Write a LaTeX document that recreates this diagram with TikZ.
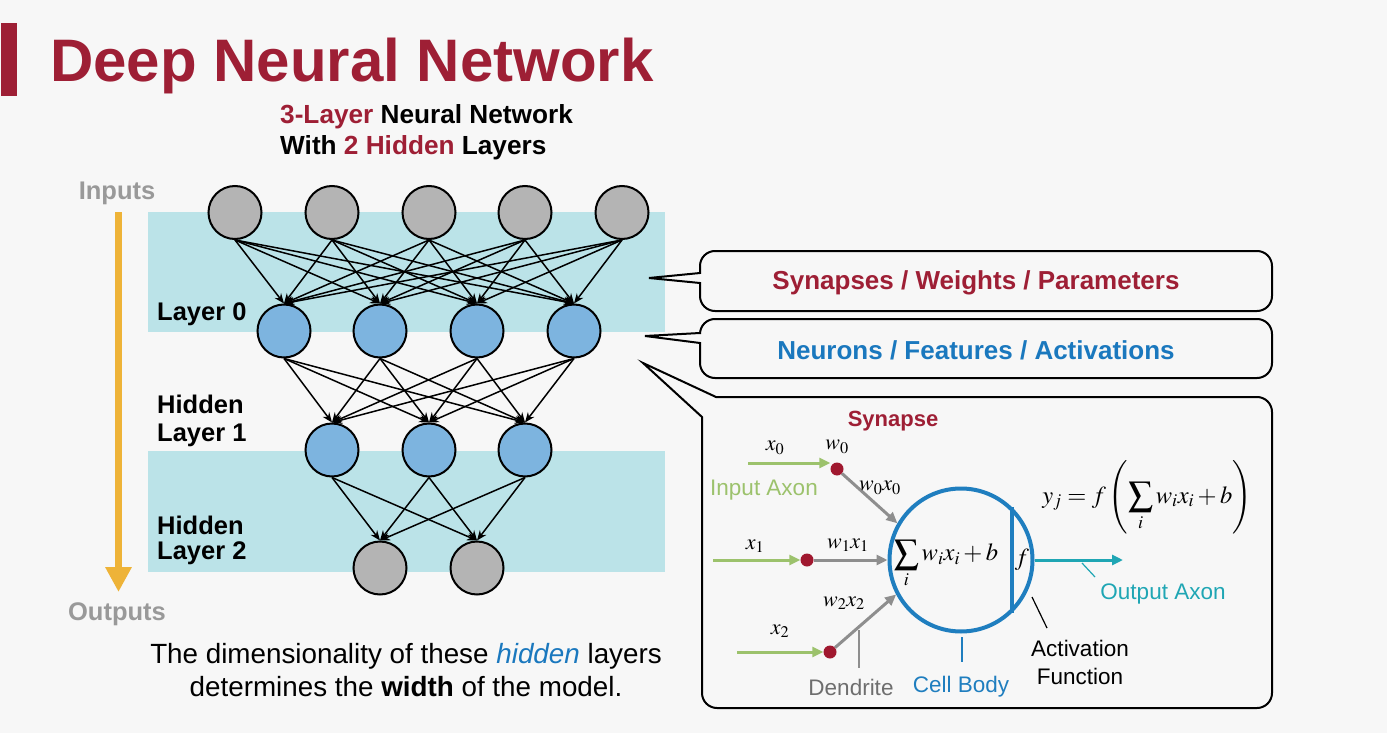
\documentclass[tikz,border=0pt]{standalone}
\usepackage{mathptmx}
\usepackage[no-math]{fontspec}
\setmainfont{Liberation Sans}
\usetikzlibrary{arrows.meta}
\definecolor{bgc}{HTML}{F7F7F7}
\definecolor{titlered}{HTML}{9E1F35}
\definecolor{bandc}{HTML}{BBE3E8}
\definecolor{nodegrey}{HTML}{B4B4B4}
\definecolor{nodeblue}{HTML}{7DB4DF}
\definecolor{orangec}{HTML}{EEB338}
\definecolor{lblgrey}{HTML}{999999}
\definecolor{greenc}{HTML}{9CC26C}
\definecolor{dotred}{HTML}{A0182F}
\definecolor{arrgrey}{HTML}{8E8E8E}
\definecolor{cellblue}{HTML}{1F7EBF}
\definecolor{tealc}{HTML}{1FA6B4}
\definecolor{neurblue}{HTML}{1A78BE}
\definecolor{dendgrey}{HTML}{6E6E6E}
\begin{document}
\begin{tikzpicture}[x=1pt,y=-1pt,
  nn/.style={circle, draw=black, line width=2pt, minimum size=53pt, inner sep=0pt},
  gnode/.style={nn, fill=nodegrey},
  bnode/.style={nn, fill=nodeblue},
  edge/.style={line width=1.5pt, -{Stealth[length=10pt,width=8pt]}},
  lbl/.style={inner sep=0pt, font=\fontsize{25.5}{29}\selectfont\bfseries},
  callout/.style={draw=black, line width=2pt, line join=miter},
  boxtxt/.style={inner sep=0pt, font=\fontsize{26}{30}\selectfont\bfseries},
  mlbl/.style={inner sep=0pt, font=\fontsize{22}{25}\selectfont},
  flbl/.style={inner sep=0pt, font=\fontsize{24.5}{28}\selectfont},
  slbl/.style={inner sep=0pt, font=\fontsize{22.5}{28}\selectfont},
  garrow/.style={greenc, line width=3pt, -{Triangle[length=11pt,width=10pt]}},
  grarrow/.style={arrgrey, line width=3pt, -{Triangle[length=11pt,width=10pt]}},
  tarrow/.style={tealc, line width=3pt, -{Triangle[length=11pt,width=10pt]}},
  dot/.style={circle, fill=dotred, minimum size=13pt, inner sep=0pt}
]
\useasboundingbox (0,0) rectangle (1387,733);
\fill[bgc] (0,0) rectangle (1387,733);

% title
\fill[titlered] (1,23) rectangle (17,96);
\node[anchor=base west, inner sep=0pt, text=titlered, font=\fontsize{60}{70}\selectfont\bfseries] (title) at (50,82) {Deep Neural Network};
\node[anchor=base west, inner sep=0pt, font=\fontsize{26.2}{30}\selectfont\bfseries] (sub1) at (280,124) {\textcolor{titlered}{3-Layer} Neural Network};
\node[anchor=base west, inner sep=0pt, font=\fontsize{26.2}{30}\selectfont\bfseries] (sub2) at (280,155) {With \textcolor{titlered}{2 Hidden} Layers};

% bands
\fill[bandc] (148,212) rectangle (665,332);
\fill[bandc] (148,451) rectangle (665,572);

% orange arrow
\coordinate (oa1) at (118.5,212);
\coordinate (oa2) at (118.5,592);
\draw[orangec, line width=7pt, -{Triangle[length=25pt,width=25pt]}] (oa1) -- (oa2);
\node[lbl, text=lblgrey] (inputs) at (117,193) {Inputs};
\node[lbl, text=lblgrey] (outputs) at (117,614) {Outputs};

% layer labels
\node[lbl, anchor=west] (l0) at (157,314) {Layer 0};
\node[lbl, anchor=west] (h1a) at (157,404) {Hidden};
\node[lbl, anchor=west] (h1b) at (157,435) {Layer 1};
\node[lbl, anchor=west] (h2a) at (157,525) {Hidden};
\node[lbl, anchor=west] (h2b) at (157,553) {Layer 2};

% nodes
\foreach \i/\x in {1/235,2/332,3/429,4/525,5/622} \node[gnode] (in\i) at (\x,212.5) {};
\foreach \i/\x in {1/284,2/380,3/477,4/574} \node[bnode] (a\i) at (\x,331) {};
\foreach \i/\x in {1/332,2/429,3/525} \node[bnode] (b\i) at (\x,450) {};
\foreach \i/\x in {1/380,2/477} \node[gnode] (o\i) at (\x,568) {};

% edges
\foreach \i in {1,...,5} \foreach \j in {1,...,4} \draw[edge] (in\i.south) -- (a\j.north);
\foreach \i in {1,...,4} \foreach \j in {1,...,3} \draw[edge] (a\i.south) -- (b\j.north);
\foreach \i in {1,...,3} \foreach \j in {1,...,2} \draw[edge] (b\i.south) -- (o\j.north);

% bottom text
\node[inner sep=0pt, align=center, font=\fontsize{27.8}{33}\selectfont] (bottom) at (406,670)
  {The dimensionality of these \textcolor{neurblue}{\itshape hidden} layers\\determines the \textbf{width} of the model.};

% callout 1
\draw[callout] (700,273) -- (700,266) arc[start angle=180,end angle=270,radius=15]
  -- (1257,251) arc[start angle=270,end angle=360,radius=15]
  -- (1272,296) arc[start angle=0,end angle=90,radius=15]
  -- (715,311) arc[start angle=90,end angle=180,radius=15]
  -- (700,283) -- (649,278) -- cycle;
\node[boxtxt, text=titlered] (syn) at (976,283) {Synapses / Weights / Parameters};

% callout 2
\draw[callout] (700,333) -- (700,334) arc[start angle=180,end angle=270,radius=15]
  -- (1257,319) arc[start angle=270,end angle=360,radius=15]
  -- (1272,363) arc[start angle=0,end angle=90,radius=15]
  -- (715,378) arc[start angle=90,end angle=180,radius=15]
  -- (700,343) -- (645,336) -- cycle;
\node[boxtxt, text=neurblue] (neu) at (976,350) {Neurons / Features / Activations};

% callout 3
\draw[callout] (702,417) -- (643,363) -- (716,397)
  -- (1257,397) arc[start angle=270,end angle=360,radius=15]
  -- (1272,693) arc[start angle=0,end angle=90,radius=15]
  -- (717,708) arc[start angle=90,end angle=180,radius=15]
  -- cycle;

% neuron
\node[inner sep=0pt, text=titlered, font=\fontsize{22}{25}\selectfont\bfseries] (synapse) at (893,421) {Synapse};
\node[circle, draw=cellblue, line width=4pt, minimum size=143pt, inner sep=0pt] (cell) at (961,560) {};
\draw[cellblue, line width=4pt] (cell.46) -- (cell.-46);
\node[flbl] (sumc) at (946,564) {$\displaystyle\sum_i w_i x_i + b$};
\node[flbl] (fc) at (1022,560) {$f$};

\node[dot] (d0) at (837,469) {};
\node[dot] (d1) at (807,560) {};
\node[dot] (d2) at (830,652) {};
\coordinate (g0) at (748,463);
\coordinate (g1) at (713,560);
\coordinate (g2) at (737,652);
\draw[garrow] (g0) -- (g0 -| d0.west);
\draw[garrow] (g1) -- (d1.west);
\draw[garrow] (g2) -- (d2.west);
\draw[grarrow] (d0) -- (cell.150);
\draw[grarrow] (d1) -- (cell.west);
\draw[grarrow] (d2) -- (cell.208);

\node[mlbl] (x0) at (775,448) {$x_0$};
\node[mlbl] (w0) at (837,447) {$w_0$};
\node[mlbl] (w0x0) at (880,488) {$w_0x_0$};
\node[mlbl] (x1) at (755,546) {$x_1$};
\node[mlbl] (w1x1) at (848,545) {$w_1x_1$};
\node[mlbl] (x2) at (780,631) {$x_2$};
\node[mlbl] (w2x2) at (844,603) {$w_2x_2$};
\node[slbl, text=greenc] (inax) at (764,490) {Input Axon};

\coordinate (dt1) at (859,630);
\coordinate (dt2) at (859,668);
\draw[arrgrey, line width=1.5pt] (dt1) -- (dt2);
\node[slbl, text=dendgrey] (dend) at (851,687) {Dendrite};

\coordinate (cb1) at (962,637);
\coordinate (cb2) at (962,662);
\draw[cellblue, line width=1.5pt] (cb1) -- (cb2);
\node[slbl, text=cellblue] (cbody) at (961,687) {Cell Body};

\coordinate (af1) at (1032,597);
\coordinate (af2) at (1047,628);
\draw[black, line width=1.2pt] (af1) -- (af2);
\node[slbl, align=center] (actf) at (1080,662) {Activation\\Function};

\coordinate (oax) at (1123,560);
\draw[tarrow] (cell.east) -- (oax);
\coordinate (ot1) at (1082,563);
\coordinate (ot2) at (1095,577);
\draw[tealc, line width=1.2pt] (ot1) -- (ot2);
\node[slbl, text=tealc] (outax) at (1163,594) {Output Axon};

\node[flbl] (formula) at (1147,497) {$y_j = f\left(\displaystyle\sum_i w_i x_i + b\right)$};
\end{tikzpicture}
\end{document}
